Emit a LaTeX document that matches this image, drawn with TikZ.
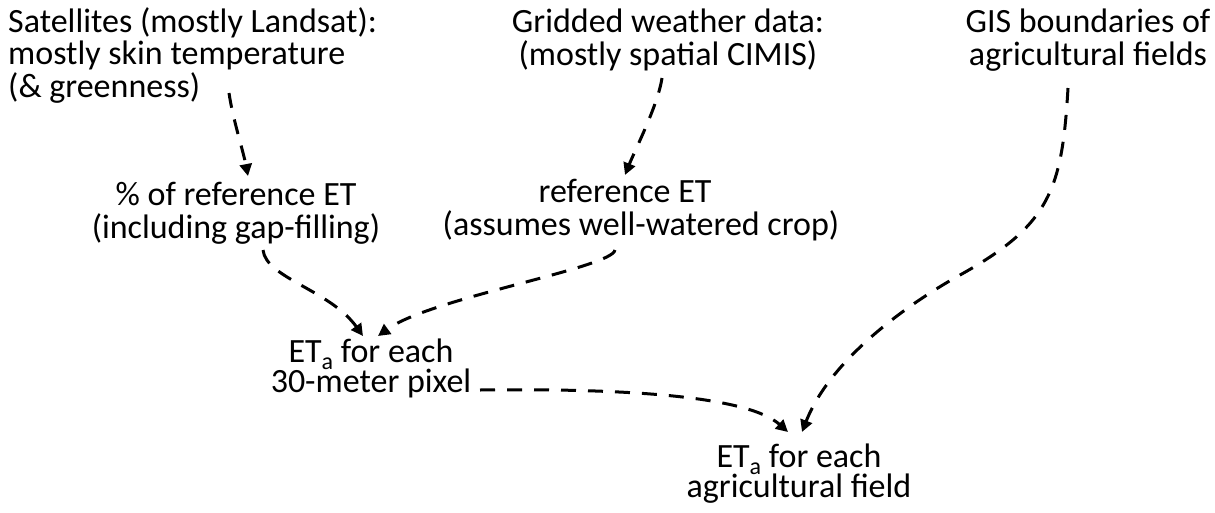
\documentclass[tikz,border=0pt]{standalone}
\usepackage{fontspec}
\setmainfont{Carlito}
\usetikzlibrary{arrows.meta}
\lineskiplimit=-100pt
\newcommand{\subA}{\raisebox{-0.2em}{\fontsize{24}{24}\selectfont a}}
\tikzset{
  txt/.style={font=\fontsize{34}{32.5}\selectfont, inner sep=0pt, align=center},
  etx/.style={font=\fontsize{34}{29.5}\selectfont, inner sep=0pt, align=center},
  flow/.style={line width=3pt, dash pattern=on 15pt off 12pt, -{Triangle[length=12pt,width=12pt]}},
}
\begin{document}
\begin{tikzpicture}[x=1pt,y=-1pt]
\useasboundingbox (0,0) rectangle (1215,512);
\node[txt, align=left, anchor=base west] (sat) at (8,97) {Satellites (mostly Landsat):\\mostly skin temperature\\(\& greenness)};
\node[txt, anchor=base] (grid) at (668,65) {Gridded weather data:\\(mostly spatial CIMIS)};
\node[txt, anchor=base] (gis) at (1088,65) {GIS boundaries of\\agricultural fields};
\node[txt, anchor=base] (pct) at (236,238) {\% of reference ET\\(including gap-filling)};
\node[txt, anchor=base] (ref) at (641,235) {reference ET\hspace*{32pt}\\(assumes well-watered crop)};
\node[etx, anchor=base] (pix) at (371,392) {ET\subA{} for each\\30-meter pixel};
\node[etx, anchor=base] (fld) at (799,497) {ET\subA{} for each\\agricultural field};

\draw[flow] ([shift={(221,-4)}]sat.base west) .. controls (233,120) and (243,150) .. ([shift={(12,-62)}]pct.base);
\draw[flow] ([shift={(-6,13)}]grid.base) .. controls (658,105) and (635,150) .. ([shift={(-16,-60)}]ref.base);
\draw[flow] ([shift={(27,12)}]pct.base) .. controls (266,278) and (330,290) .. ([shift={(-8,-56)}]pix.base);
\draw[flow] ([shift={(-26,15)}]ref.base) .. controls (612,268) and (430,298) .. ([shift={(7,-56)}]pix.base);
\draw[flow] ([shift={(-20,23)}]gis.base) .. controls (1062,190) and (1050,225) .. (960,275) .. controls (906,305) and (830,360) .. ([shift={(3,-65)}]fld.base);
\draw[flow] ([shift={(109,-2)}]pix.base) .. controls (640,388) and (750,398) .. ([shift={(-11,-65)}]fld.base);
\end{tikzpicture}
\end{document}
